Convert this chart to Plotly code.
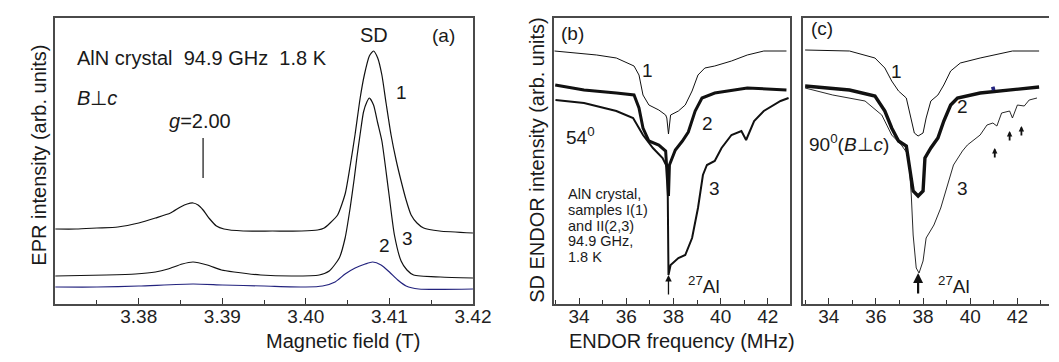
import plotly.graph_objects as go

# ---------------- Panel (a): EPR spectra ----------------
field_1 = [3.3700, 3.3725, 3.3750, 3.3775, 3.3800, 3.3820, 3.3838, 3.3850, 3.3858, 3.3865,
           3.3871, 3.3877, 3.3885, 3.3893, 3.3902, 3.3925, 3.3960, 3.3995, 3.4014, 3.4022,
           3.4029, 3.4038, 3.4047, 3.4053, 3.4059, 3.4065, 3.4070, 3.4076, 3.4081, 3.4086,
           3.4091, 3.4096, 3.4102, 3.4108, 3.4114, 3.4120, 3.4126, 3.4133, 3.4141, 3.4160, 3.4200]
epr_1 = [75, 75, 76, 77, 81, 86, 91, 97, 100, 101,
         99, 94, 85, 78, 75, 73, 73, 73, 74, 76,
         81, 89, 110, 138, 170, 206, 229, 248, 253, 246,
         229, 201, 169, 144, 123, 104, 89, 81, 76, 73, 71]

field_3 = [3.3700, 3.3761, 3.3796, 3.3820, 3.3835, 3.3852, 3.3865, 3.3882, 3.3899, 3.3914,
           3.3946, 3.3985, 3.4016, 3.4028, 3.4040, 3.4047, 3.4053, 3.4058, 3.4061, 3.4065,
           3.4069, 3.4073, 3.4076, 3.4081, 3.4086, 3.4091, 3.4099, 3.4106, 3.4114, 3.4121,
           3.4129, 3.4161, 3.4200]
epr_3 = [28, 29, 30, 32, 35, 40, 42, 39, 34, 32,
         29, 28, 29, 33, 46, 66, 96, 126, 146, 170,
         192, 202, 206, 199, 181, 163, 113, 69, 43, 34,
         29, 27, 26]

field_2 = [3.3700, 3.3750, 3.3800, 3.3865, 3.3900, 3.3950, 3.4000, 3.4020, 3.4035, 3.4047,
           3.4059, 3.4071, 3.4080, 3.4090, 3.4100, 3.4110, 3.4120, 3.4135, 3.4200]
epr_2 = [17, 17, 18, 20, 19, 18, 17, 18, 22, 30,
         36, 40, 42, 39, 32, 24, 18, 15, 15]

g_marker_field = 3.3877
g_marker_range = [126, 166]

# ---------------- Panel (b): ENDOR, 54 deg ----------------
freq_b1 = [32.96, 33.92, 34.75, 35.58, 36.33, 36.54, 36.71, 36.96, 37.38, 37.67,
           37.72, 37.79, 37.84, 37.88, 38.21, 38.50, 38.79, 39.04, 39.33, 39.75,
           40.46, 41.13, 41.83, 42.79]
endor_b1 = [253, 251, 249, 246, 238, 229, 209, 199, 194, 189,
            186, 170, 186, 189, 193, 199, 213, 229, 236, 238,
            243, 249, 253, 253]

freq_b2 = [32.99, 34.21, 35.58, 36.33, 36.54, 36.71, 36.96, 37.38, 37.67, 37.79,
           37.83, 38.08, 38.38, 38.63, 38.92, 39.21, 39.75, 41.13, 42.79]
endor_b2 = [219, 214, 211, 209, 196, 176, 163, 159, 153, 108,
            139, 154, 163, 172, 193, 206, 211, 216, 214]

freq_b3 = [33.00, 34.21, 35.58, 36.29, 36.71, 37.13, 37.54, 37.75, 37.79, 37.88,
           38.21, 38.50, 38.79, 39.04, 39.25, 39.42, 39.75, 40.04, 40.46, 40.88,
           41.08, 41.42, 41.83, 42.54, 42.88]
endor_b3 = [204, 201, 193, 186, 169, 156, 146, 136, 29, 39,
            46, 49, 66, 96, 129, 139, 143, 156, 169, 173,
            164, 183, 193, 203, 206]

# ---------------- Panel (c): ENDOR, 90 deg ----------------
freq_c1 = [33.00, 34.88, 35.96, 36.38, 36.67, 36.96, 37.29, 37.50, 37.63, 37.79,
           38.00, 38.13, 38.33, 38.63, 38.88, 39.17, 39.58, 40.42, 41.79, 42.92]
endor_c1 = [254, 253, 246, 236, 223, 213, 206, 186, 171, 168,
            171, 186, 203, 209, 219, 233, 241, 246, 253, 253]

freq_c2 = [33.00, 34.88, 35.96, 36.38, 36.67, 36.96, 37.29, 37.42, 37.58, 37.79,
           38.00, 38.08, 38.33, 38.63, 38.88, 39.17, 39.46, 40.42, 41.79, 42.92]
endor_c2 = [218, 214, 208, 193, 176, 163, 158, 139, 113, 108,
            113, 146, 156, 166, 183, 199, 206, 211, 214, 217]

freq_c3 = [33.00, 34.17, 35.54, 36.25, 36.67, 37.08, 37.38, 37.50, 37.58, 37.71,
           37.83, 38.00, 38.13, 38.46, 38.75, 39.04, 39.29, 39.67, 39.88, 40.42,
           40.71, 40.96, 41.13, 41.33, 41.67, 41.79, 42.00, 42.29, 42.50, 42.83]
endor_c3 = [216, 209, 203, 189, 169, 159, 149, 109, 69, 36,
            31, 43, 66, 79, 96, 119, 139, 153, 159, 169,
            179, 181, 178, 191, 193, 186, 199, 198, 204, 206]

freq_c_blue = [40.90, 41.05]
endor_c_blue = [215, 216]

al27_freq = 37.79
small_arrow_freqs = [41.04, 41.67, 42.17]
small_arrow_tops = [156, 173, 178]

info_lines_b = ["AlN crystal,", "samples I(1)", "and II(2,3)", "94.9 GHz,", "1.8 K"]

FONT = "Arial, Liberation Sans, sans-serif"
BLACK = "#111111"
BLUE = "#23237e"
FRAME = "#4a4a4a"

fig = go.Figure()

# panel a
fig.add_trace(go.Scatter(x=field_1, y=epr_1, mode="lines", line=dict(color=BLACK, width=1.2, shape="spline", smoothing=0.6), xaxis="x", yaxis="y"))
fig.add_trace(go.Scatter(x=field_3, y=epr_3, mode="lines", line=dict(color=BLACK, width=1.2, shape="spline", smoothing=0.6), xaxis="x", yaxis="y"))
fig.add_trace(go.Scatter(x=field_2, y=epr_2, mode="lines", line=dict(color=BLUE, width=1.2, shape="spline", smoothing=0.6), xaxis="x", yaxis="y"))
fig.add_trace(go.Scatter(x=[g_marker_field, g_marker_field], y=g_marker_range, mode="lines", line=dict(color=BLACK, width=1.2), xaxis="x", yaxis="y"))

# panel b
fig.add_trace(go.Scatter(x=freq_b1, y=endor_b1, mode="lines", line=dict(color=BLACK, width=1.0), xaxis="x2", yaxis="y2"))
fig.add_trace(go.Scatter(x=freq_b2, y=endor_b2, mode="lines", line=dict(color=BLACK, width=3.0), xaxis="x2", yaxis="y2"))
fig.add_trace(go.Scatter(x=freq_b3, y=endor_b3, mode="lines", line=dict(color=BLACK, width=2.0), xaxis="x2", yaxis="y2"))

# panel c
fig.add_trace(go.Scatter(x=freq_c1, y=endor_c1, mode="lines", line=dict(color=BLACK, width=1.0), xaxis="x3", yaxis="y3"))
fig.add_trace(go.Scatter(x=freq_c2, y=endor_c2, mode="lines", line=dict(color=BLACK, width=3.4), xaxis="x3", yaxis="y3"))
fig.add_trace(go.Scatter(x=freq_c3, y=endor_c3, mode="lines", line=dict(color=BLACK, width=0.9), xaxis="x3", yaxis="y3"))
fig.add_trace(go.Scatter(x=freq_c_blue, y=endor_c_blue, mode="lines", line=dict(color=BLUE, width=3.5), xaxis="x3", yaxis="y3"))

W, H = 1059, 362

def xax(dom, rng, tickvals, ticktext, minor_dtick, minor_tick0, anchor):
    return dict(domain=dom, range=rng, anchor=anchor, showline=True, linecolor=FRAME, linewidth=1.6, mirror=True,
                ticks="inside", ticklen=6, tickwidth=1, tickcolor="#333", tickvals=tickvals, ticktext=ticktext,
                minor=dict(ticks="inside", ticklen=4, tickwidth=1, tickcolor="#333", dtick=minor_dtick, tick0=minor_tick0),
                showgrid=False, zeroline=False, tickfont=dict(family=FONT, size=19, color="#222"),
                ticklabelstandoff=-6, fixedrange=True)

def yax(anchor, mirror=True):
    return dict(domain=[0, 1], range=[0, 286], anchor=anchor, showline=True, linecolor=FRAME, linewidth=1.6,
                mirror=mirror, showticklabels=False, ticks="", showgrid=False, zeroline=False, fixedrange=True)

fig.update_layout(
    width=W, height=H, margin=dict(l=0, r=0, t=10, b=66),
    paper_bgcolor="white", plot_bgcolor="white", showlegend=False,
    font=dict(family=FONT, size=19, color="#1a1a1a"),
    xaxis=xax([48/W, 473/W], [3.37, 3.42], [3.38, 3.39, 3.40, 3.41, 3.42], ["3.38", "3.39", "3.40", "3.41", "3.42"], 0.005, 3.37, "y"),
    yaxis=yax("x"),
    xaxis2=xax([555/W, 796/W], [32.92, 42.96], [34, 36, 38, 40, 42], ["34", "36", "38", "40", "42"], 1, 33, "y2"),
    yaxis2=yax("x2"),
    xaxis3=xax([809/W, 1.0], [32.92, 43.34], [34, 36, 38, 40, 42], ["34", "36", "38", "40", "42"], 1, 33, "y3"),
    yaxis3=yax("x3", mirror=False),
)

ann = []
def t(x, y, text, xr, yr, size=19, xanchor="center"):
    ann.append(dict(x=x, y=y, xref=xr, yref=yr, text=text, showarrow=False, xanchor=xanchor, yanchor="middle",
                    font=dict(family=FONT, size=size, color="#1a1a1a")))

# panel a labels
t(3.3724, 246, "AlN crystal\u00a0\u00a094.9 GHz\u00a0\u00a01.8 K", "x", "y", 20, "left")
t(3.3724, 206, "<i>B</i>⊥<i>c</i>", "x", "y", 20, "left")
t(3.3873, 183, "<i>g</i>=2.00", "x", "y", 20)
t(3.4081, 269, "SD", "x", "y", 20)
t(3.4165, 269, "(a)", "x", "y", 19)
t(3.4114, 212, "1", "x", "y", 19)
t(3.4122, 66, "3", "x", "y", 19)
t(3.4094, 59, "2", "x", "y", 19)

# panel b labels
t(33.15, 271, "(b)", "x2", "y2", 19, "left")
t(36.92, 234, "1", "x2", "y2", 19)
t(39.46, 181, "2", "x2", "y2", 19)
t(39.75, 116, "3", "x2", "y2", 19)
t(33.35, 168, "54<sup>0</sup>", "x2", "y2", 19, "left")
for i, line in enumerate(info_lines_b):
    t(33.45, 110 - 15.8 * i, line, "x2", "y2", 14.5, "left")
t(38.55, 19, "<sup>27</sup>Al", "x2", "y2", 19, "left")

# panel c labels
t(33.15, 276, "(c)", "x3", "y3", 19, "left")
t(36.88, 233, "1", "x3", "y3", 19)
t(39.67, 198, "2", "x3", "y3", 19)
t(39.67, 116, "3", "x3", "y3", 19)
t(33.1, 161, "90<sup>0</sup>(<i>B</i>⊥<i>c</i>)", "x3", "y3", 19, "left")
t(38.55, 19, "<sup>27</sup>Al", "x3", "y3", 19, "left")

# arrows
ann.append(dict(x=al27_freq, y=29, xref="x2", yref="y2", ax=0, ay=21, showarrow=True, arrowhead=2, arrowsize=1,
                arrowwidth=1.3, arrowcolor=BLACK, text=""))
ann.append(dict(x=al27_freq, y=31, xref="x3", yref="y3", ax=0, ay=22, showarrow=True, arrowhead=2, arrowsize=0.9,
                arrowwidth=2.2, arrowcolor=BLACK, text=""))
for f, top in zip(small_arrow_freqs, small_arrow_tops):
    ann.append(dict(x=f, y=top, xref="x3", yref="y3", ax=0, ay=11, showarrow=True, arrowhead=2, arrowsize=0.6,
                    arrowwidth=1.8, arrowcolor=BLACK, text=""))

# axis titles
ann.append(dict(x=260/W, y=(296-346)/286, xref="paper", yref="paper", text="Magnetic field (T)", showarrow=False,
                font=dict(family=FONT, size=20, color="#1a1a1a")))
ann.append(dict(x=803/W, y=(296-346)/286, xref="paper", yref="paper", text="ENDOR frequency (MHz)", showarrow=False,
                font=dict(family=FONT, size=20, color="#1a1a1a")))
ann.append(dict(x=18/W, y=(296-147)/286, xref="paper", yref="paper", text="EPR intensity (arb. units)", showarrow=False,
                textangle=-90, font=dict(family=FONT, size=20, color="#1a1a1a")))
ann.append(dict(x=538/W, y=(296-152)/286, xref="paper", yref="paper", text="SD ENDOR intensity (arb. units)", showarrow=False,
                textangle=-90, font=dict(family=FONT, size=20, color="#1a1a1a")))

fig.update_layout(annotations=ann)
fig.write_html("out.html")
